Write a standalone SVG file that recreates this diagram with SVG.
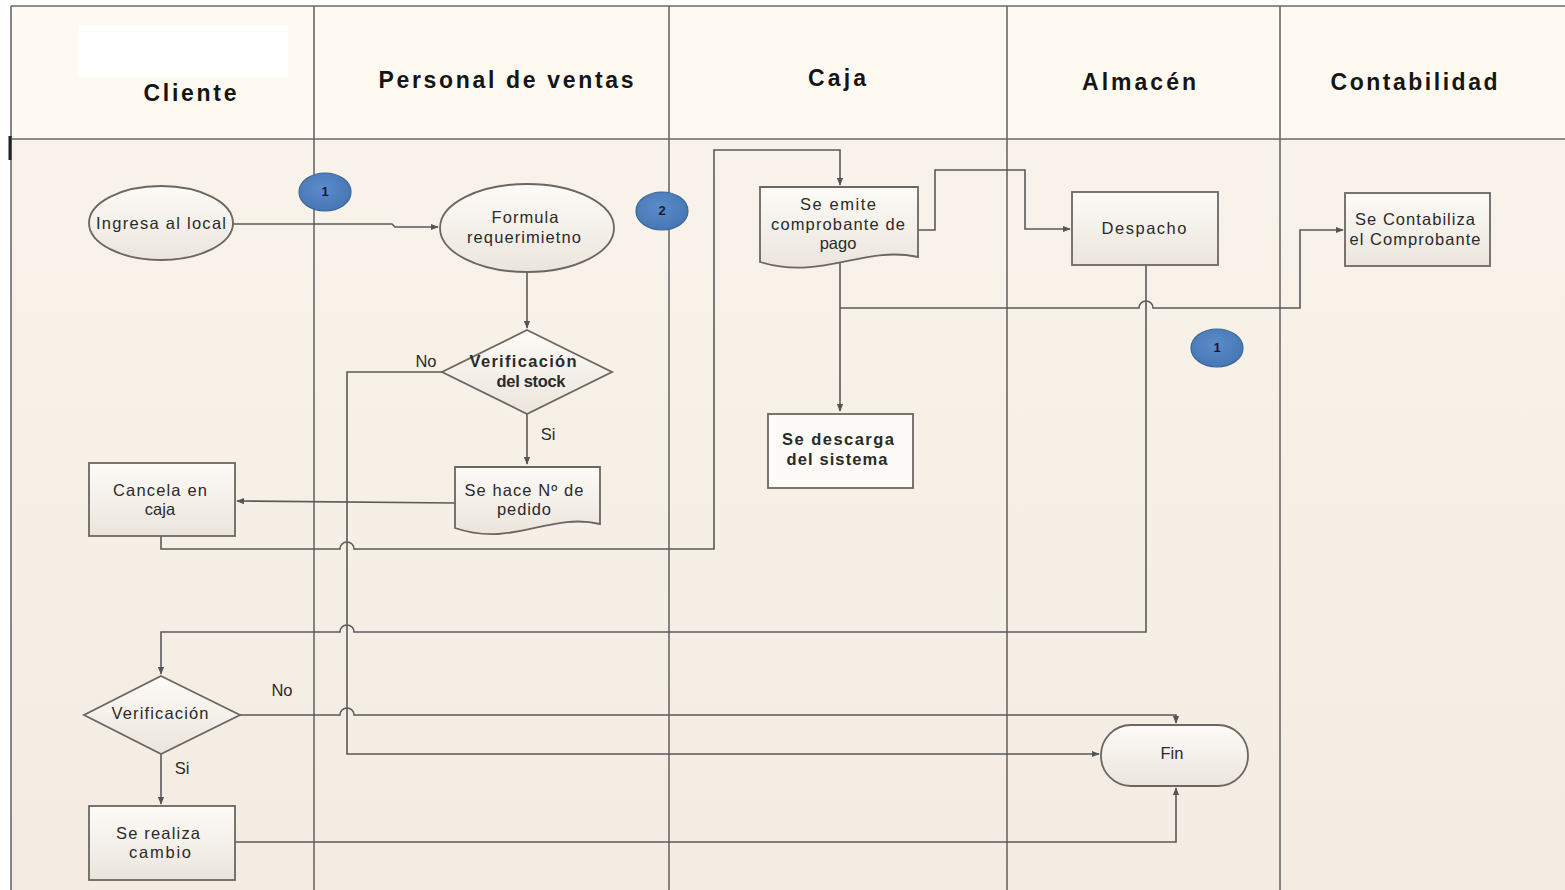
<svg xmlns="http://www.w3.org/2000/svg" width="1565" height="890" viewBox="0 0 1565 890">
  <defs>
    <linearGradient id="bodyBg" x1="0" y1="0" x2="0" y2="1">
      <stop offset="0" stop-color="#f9f4ec"/>
      <stop offset="1" stop-color="#f4ece2"/>
    </linearGradient>
    <linearGradient id="nodeFill" x1="0" y1="0" x2="0" y2="1">
      <stop offset="0" stop-color="#fdfbf8"/>
      <stop offset="1" stop-color="#ebe5dc"/>
    </linearGradient>
    <radialGradient id="badgeFill" cx="0.45" cy="0.4" r="0.6">
      <stop offset="0" stop-color="#5b8ccb"/>
      <stop offset="1" stop-color="#4776b4"/>
    </radialGradient>
    <marker id="arrow" viewBox="0 0 10 10" refX="9" refY="5" markerWidth="8" markerHeight="8" markerUnits="userSpaceOnUse" orient="auto">
      <path d="M0,1 L10,5 L0,9 Z" fill="#555"/>
    </marker>
    <style>
      .lane { stroke: #6a6a6a; stroke-width: 1.6; fill: none; }
      .node { fill: url(#nodeFill); stroke: #6b6661; stroke-width: 1.8; }
      .plain { fill: #fdfbf8; stroke: #6b6661; stroke-width: 1.8; }
      .conn { fill: none; stroke: #5a5a5a; stroke-width: 1.6; }
      .head { font-family: "Liberation Sans", Arial, sans-serif; font-weight: bold; font-size: 23px; fill: #151515; text-anchor: middle; }
      .lbl { font-family: "Liberation Sans", Arial, sans-serif; font-size: 16.5px; fill: #2a2a2a; text-anchor: middle; }
      .bold { font-weight: bold; }
      .badge { fill: url(#badgeFill); stroke: #3b6598; stroke-width: 1.2; }
      .num { font-family: "Liberation Sans", Arial, sans-serif; font-weight: bold; font-size: 13px; fill: #1a1a2a; text-anchor: middle; }
    </style>
  </defs>

  <!-- swimlane frame -->
  <g id="lanes">
    <rect x="0" y="0" width="1565" height="890" fill="#ffffff"/>
    <rect x="11" y="6" width="1554" height="884" fill="url(#bodyBg)"/>
    <rect x="11" y="6" width="1554" height="133" fill="#fefaf1"/>
    <rect x="78" y="25" width="210" height="52" fill="#ffffff"/>
    <path class="lane" d="M11,6 H1565 M11,139 H1565 M11,6 V890 M314,6 V890 M669,6 V890 M1007,6 V890 M1280,6 V890"/>
    <line x1="10" y1="136" x2="10" y2="160" stroke="#222" stroke-width="3"/>
    <text class="head" x="190" y="101" textLength="93" lengthAdjust="spacing">Cliente</text>
    <text class="head" x="506" y="88" textLength="255" lengthAdjust="spacing">Personal de ventas</text>
    <text class="head" x="837" y="86" textLength="58" lengthAdjust="spacing">Caja</text>
    <text class="head" x="1139" y="90" textLength="114" lengthAdjust="spacing">Almacén</text>
    <text class="head" x="1414" y="90" textLength="167" lengthAdjust="spacing">Contabilidad</text>
  </g>

  <!-- connectors -->
  <g id="connectors">
    <path class="conn" d="M233,224 H392 L395,227 H438" marker-end="url(#arrow)"/>
    <path class="conn" d="M527,272 V328" marker-end="url(#arrow)"/>
    <path class="conn" d="M527,414 V464" marker-end="url(#arrow)"/>
    <path class="conn" d="M442,372 H347 V754 H1099" marker-end="url(#arrow)"/>
    <path class="conn" d="M455,503 L237,501" marker-end="url(#arrow)"/>
    <path class="conn" d="M161,536 V549 H340 A7,7 0 0 1 354,549 H714 V150 H840 V185" marker-end="url(#arrow)"/>
    <path class="conn" d="M918,230 H935 V170 H1025 V229 H1070" marker-end="url(#arrow)"/>
    <path class="conn" d="M840,258 V411" marker-end="url(#arrow)"/>
    <path class="conn" d="M840,308 H1139 A7,7 0 0 1 1153,308 H1300 V230 H1343" marker-end="url(#arrow)"/>
    <path class="conn" d="M1146,265 V632 H354 A7,7 0 0 0 340,632 H161 V674" marker-end="url(#arrow)"/>
    <path class="conn" d="M240,715 H340 A7,7 0 0 1 354,715 H1176 V723" marker-end="url(#arrow)"/>
    <path class="conn" d="M161,754 V804" marker-end="url(#arrow)"/>
    <path class="conn" d="M235,842 H1176 V788" marker-end="url(#arrow)"/>
    <text class="lbl" x="426" y="367">No</text>
    <text class="lbl" x="548" y="440">Si</text>
    <text class="lbl" x="282" y="696">No</text>
    <text class="lbl" x="182" y="774">Si</text>
  </g>

  <!-- step badges -->
  <g id="badge-1a">
    <ellipse class="badge" cx="325" cy="192" rx="26" ry="19"/>
    <text class="num" x="325" y="196">1</text>
  </g>
  <g id="badge-2">
    <ellipse class="badge" cx="662" cy="211" rx="26" ry="19"/>
    <text class="num" x="662" y="215">2</text>
  </g>
  <g id="badge-1b">
    <ellipse class="badge" cx="1217" cy="348" rx="26" ry="19"/>
    <text class="num" x="1217" y="352">1</text>
  </g>

  <!-- Cliente -->
  <g id="ingresa">
    <ellipse class="node" cx="161" cy="223" rx="72" ry="37"/>
    <text class="lbl" x="161" y="229" textLength="130" lengthAdjust="spacing">Ingresa al local</text>
  </g>
  <g id="cancela">
    <rect class="node" x="89" y="463" width="146" height="73"/>
    <text class="lbl" x="160" y="496" textLength="94" lengthAdjust="spacing">Cancela en</text>
    <text class="lbl" x="160" y="515">caja</text>
  </g>
  <g id="verificacion">
    <path class="node" d="M161,676 L240,715 L161,754 L84,715 Z"/>
    <text class="lbl" x="160" y="719" textLength="97" lengthAdjust="spacing">Verificación</text>
  </g>
  <g id="cambio">
    <rect class="node" x="89" y="806" width="146" height="74"/>
    <text class="lbl" x="158" y="839" textLength="84" lengthAdjust="spacing">Se realiza</text>
    <text class="lbl" x="160" y="858" textLength="62" lengthAdjust="spacing">cambio</text>
  </g>

  <!-- Personal de ventas -->
  <g id="formula">
    <ellipse class="node" cx="527" cy="228" rx="87" ry="44"/>
    <text class="lbl" x="525" y="223" textLength="67" lengthAdjust="spacing">Formula</text>
    <text class="lbl" x="524" y="243" textLength="114" lengthAdjust="spacing">requerimietno</text>
  </g>
  <g id="stock">
    <path class="node" d="M527,330 L612,372 L527,414 L442,372 Z"/>
    <text class="lbl bold" x="523" y="367" textLength="107" lengthAdjust="spacing">Verificación</text>
    <text class="lbl bold" x="531" y="387" textLength="69" lengthAdjust="spacing">del stock</text>
  </g>
  <g id="pedido">
    <path class="node" d="M455,467 H600 V524 C549,512 513,548 455,528 Z"/>
    <text class="lbl" x="524" y="496" textLength="119" lengthAdjust="spacing">Se hace Nº de</text>
    <text class="lbl" x="524" y="515" textLength="54" lengthAdjust="spacing">pedido</text>
  </g>

  <!-- Caja -->
  <g id="comprobante">
    <path class="node" d="M760,187 H918 V257 C863,245 823,281 760,262 Z"/>
    <text class="lbl" x="838" y="210" textLength="76" lengthAdjust="spacing">Se emite</text>
    <text class="lbl" x="838" y="230" textLength="134" lengthAdjust="spacing">comprobante de</text>
    <text class="lbl" x="838" y="249">pago</text>
  </g>
  <g id="descarga">
    <rect class="plain" x="768" y="414" width="145" height="74"/>
    <text class="lbl bold" x="838" y="445" textLength="112" lengthAdjust="spacing">Se descarga</text>
    <text class="lbl bold" x="837" y="465" textLength="101" lengthAdjust="spacing">del sistema</text>
  </g>

  <!-- Almacén -->
  <g id="despacho">
    <rect class="node" x="1072" y="192" width="146" height="73"/>
    <text class="lbl" x="1144" y="234" textLength="85" lengthAdjust="spacing">Despacho</text>
  </g>
  <g id="fin">
    <rect class="node" x="1101" y="725" width="147" height="61" rx="30" ry="30"/>
    <text class="lbl" x="1172" y="759">Fin</text>
  </g>

  <!-- Contabilidad -->
  <g id="contabiliza">
    <rect class="node" x="1345" y="193" width="145" height="73"/>
    <text class="lbl" x="1415" y="225" textLength="120" lengthAdjust="spacing">Se Contabiliza</text>
    <text class="lbl" x="1415" y="245" textLength="131" lengthAdjust="spacing">el Comprobante</text>
  </g>
</svg>
